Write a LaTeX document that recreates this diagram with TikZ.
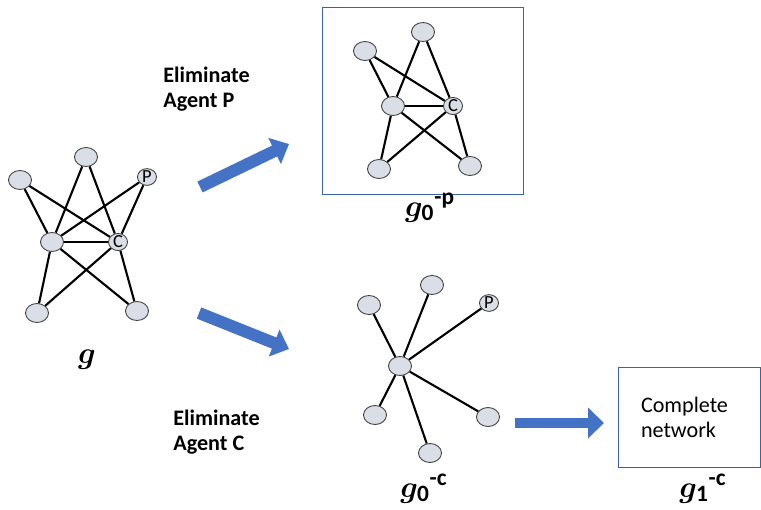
\documentclass[tikz,border=0pt]{standalone}
\usepackage{fontspec}
\usepackage{amsmath,bm}
\setmainfont{Carlito}
\usetikzlibrary{arrows.meta, shapes.geometric}
\definecolor{cblue}{HTML}{4472C4}
\definecolor{cframe}{HTML}{3A62AC}
\definecolor{cnode}{HTML}{D9DEE7}
\definecolor{cedge}{HTML}{404040}
\tikzset{
  agent/.style={ellipse, draw=cedge, fill=cnode, line width=0.5pt, minimum width=0.46cm, minimum height=0.38cm, inner sep=0pt},
  named/.style={agent, minimum width=0.38cm, minimum height=0.32cm, font=\fontsize{10.5}{11}\selectfont},
  link/.style={line width=1.2pt},
  flow/.style={draw=cblue, line width=0.24cm, -{Triangle[length=0.32cm, width=0.56cm]}},
  frame/.style={draw=cframe, line width=0.5pt},
  caption/.style={font=\fontsize{19}{23}\selectfont, anchor=base, inner sep=0pt},
  action/.style={font=\fontsize{12.6}{14.2}\selectfont\bfseries, align=left, anchor=north west, inner sep=0pt},
}
% g with a bold index, the removed agent set after it
\newcommand{\gname}[2]{$\bm{g}_{\mathbf{#1}}{}^{\text{\bfseries #2}}$}

\begin{document}
\begin{tikzpicture}
  \useasboundingbox (0,0) rectangle (15.22,-10.18);
  % left: the whole network g
  \node[agent] (ltop) at (1.72,-3.14) {};
  \node[agent] (lul)  at (0.40,-3.60) {};
  \node[named] (lp)   at (2.94,-3.54) {P};
  \node[agent] (lm)   at (1.04,-4.84) {};
  \node[named] (lc)   at (2.36,-4.84) {C};
  \node[agent] (lbl)  at (0.74,-6.26) {};
  \node[agent] (lbr)  at (2.74,-6.22) {};
  \foreach \a/\b in {ltop/lm, ltop/lc, lul/lm, lul/lc, lp/lm, lp/lc, lm/lc, lm/lbl, lm/lbr, lc/lbl, lc/lbr}
    \draw[link] (\a) -- (\b);
  \node[caption] (g) at (1.74,-7.26) {$\bm{g}$};

  % top: P taken out
  \node[frame, minimum width=4.02cm, minimum height=3.74cm] (boxp) at (8.45,-2.01) {};
  \node[agent] (btop) at (8.46,-0.64) {};
  \node[agent] (bul)  at (7.30,-1.02) {};
  \node[agent] (bm)   at (7.86,-2.12) {};
  \node[named] (bc)   at (9.06,-2.12) {C};
  \node[agent] (bbl)  at (7.58,-3.38) {};
  \node[agent] (bbr)  at (9.40,-3.32) {};
  \foreach \a/\b in {btop/bm, btop/bc, bul/bm, bul/bc, bm/bc, bm/bbl, bm/bbr, bc/bbl, bc/bbr}
    \draw[link] (\a) -- (\b);
  \node[caption] (gp) at (8.60,-4.32) {\gname{0}{-p}};

  % bottom: C taken out, only a star is left
  \node[agent] (sc)   at (8.00,-7.32) {};
  \node[agent] (sul)  at (7.38,-6.10) {};
  \node[agent] (stop) at (8.64,-5.70) {};
  \node[named] (sp)   at (9.78,-6.06) {P};
  \node[agent] (sbl)  at (7.50,-8.30) {};
  \node[agent] (sbr)  at (9.76,-8.34) {};
  \node[agent] (sbot) at (8.60,-9.06) {};
  \foreach \b in {sul, stop, sp, sbl, sbr, sbot}
    \draw[link] (sc) -- (\b);
  \node[caption] (gc) at (8.48,-9.94) {\gname{0}{-c}};

  % next step
  \node[frame, minimum width=2.84cm, minimum height=2cm, text width=1.92cm, inner xsep=0.46cm, align=left,
        font=\fontsize{12.6}{14.2}\selectfont] (full) at (13.78,-8.34) {Complete\\network};
  \node[caption] (gc1) at (14.06,-9.94) {\gname{1}{-c}};

  % block arrows
  \coordinate (a1s) at (4.00,-3.74);
  \coordinate (a1e) at (5.78,-2.88);
  \coordinate (a2s) at (3.98,-6.26);
  \coordinate (a2e) at (5.78,-6.98);
  \coordinate (a3s) at (10.30,-8.46);
  \coordinate (a3e) at (12.08,-8.46);
  \draw[flow] (a1s) -- (a1e);
  \draw[flow] (a2s) -- (a2e);
  \draw[flow, line width=0.2cm, -{Triangle[length=0.32cm, width=0.6cm]}] (a3s) -- (a3e);

  \node[action] (elp) at (3.26,-1.34) {Eliminate\\Agent P};
  \node[action] (elc) at (3.46,-8.20) {Eliminate\\Agent C};
\end{tikzpicture}
\end{document}
